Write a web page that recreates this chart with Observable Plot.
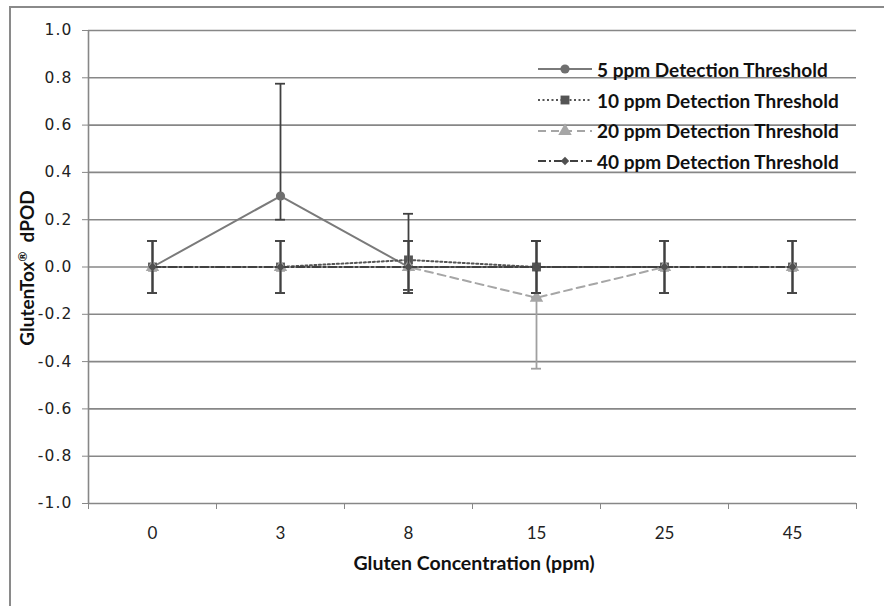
<!DOCTYPE html>
<html>
<head>
<meta charset="utf-8">
<script src="https://cdn.jsdelivr.net/npm/d3@7"></script>
<script src="https://cdn.jsdelivr.net/npm/@observablehq/plot@0.6"></script>
<style>
  html, body { margin: 0; padding: 0; background: #fff; }
  #wrap { position: relative; width: 884px; height: 606px; overflow: hidden; }
  #frame { position: absolute; left: 9px; top: 6px; width: 900px; height: 700px;
           border-top: 2px solid #8a8a8a; border-left: 2px solid #8a8a8a; pointer-events: none; }
  #legend { position: absolute; left: 537px; top: 54px; font-family: Lato, "Open Sans", sans-serif;
            font-weight: bold; font-size: 19px; color: #111; white-space: nowrap; }
  .row { height: 30.7px; display: flex; align-items: center; }
  .row svg { margin-right: 4px; flex: none; }
</style>
</head>
<body>
<div id="wrap">
  <div id="frame"></div>
  <div id="chart"></div>
  <div id="legend"></div>
</div>
<script>
// ---- data ----
const categories = ["0", "3", "8", "15", "25", "45"];
const yTicks = [-1, -0.8, -0.6, -0.4, -0.2, 0, 0.2, 0.4, 0.6, 0.8, 1];
const seriesNames = ["5 ppm Detection Threshold", "10 ppm Detection Threshold",
                     "20 ppm Detection Threshold", "40 ppm Detection Threshold"];
const v5  = [0, 0.30, 0, 0, 0, 0];
const lo5 = [-0.11, 0.20, -0.11, -0.11, -0.11, -0.11];
const hi5 = [0.11, 0.775, 0.11, 0.11, 0.11, 0.11];
const v10  = [0, 0, 0.03, 0, 0, 0];
const lo10 = [-0.11, -0.11, -0.097, -0.11, -0.11, -0.11];
const hi10 = [0.11, 0.11, 0.225, 0.11, 0.11, 0.11];
const v20  = [0, 0, 0, -0.13, 0, 0];
const lo20 = [-0.11, -0.11, -0.11, -0.43, -0.11, -0.11];
const hi20 = [0.11, 0.11, 0.11, -0.13, 0.11, 0.11];
const v40  = [0, 0, 0, 0, 0, 0];
const lo40 = [-0.11, -0.11, -0.11, -0.11, -0.11, -0.11];
const hi40 = [0.11, 0.11, 0.11, 0.11, 0.11, 0.11];

// ---- styles ----
const styles = [
  {stroke: "#7a7a7a", dash: null,      symbol: "circle",   r: 4.6, fill: "#6f6f6f", err: "#404040"},
  {stroke: "#555555", dash: "2,2.5",   symbol: "square",   r: 5.0, fill: "#555555", err: "#404040"},
  {stroke: "#a6a6a6", dash: "8,5",     symbol: "triangle", r: 5.0, fill: "#a6a6a6", err: "#a0a0a0"},
  {stroke: "#404040", dash: "8,3,2,3", symbol: "diamond2", r: 3.8, fill: "#505050", err: "#404040"}
];
const d3Symbols = {circle: d3.symbolCircle, square: d3.symbolSquare,
                   triangle: d3.symbolTriangle, diamond2: d3.symbolDiamond2};

const vals = [v5, v10, v20, v40], los = [lo5, lo10, lo20, lo40], his = [hi5, hi10, hi20, hi40];
const seriesRows = vals.map((v, s) => v.map((y, i) => ({s, i, y, lo: los[s][i], hi: his[s][i]})));

const boundaries = d3.range(-0.5, 6, 1);

const marks = [
  Plot.ruleY(yTicks, {stroke: "#878787", strokeWidth: 1.6}),
  Plot.ruleX([-0.5], {y1: -1, y2: 1, stroke: "#878787", strokeWidth: 1.6}),
  Plot.axisY(yTicks, {tickSize: 6, tickPadding: 10, stroke: "#878787", fill: "#222",
    tickFormat: d => d.toFixed(1), fontSize: 15.5, fontFamily: "DejaVu Sans, Verdana, sans-serif",
    label: null}),
  Plot.axisX(boundaries, {tickSize: 6, stroke: "#878787", tickFormat: () => "", label: null}),
  Plot.axisX(d3.range(0, 6), {tickSize: 0, tickPadding: 23, fill: "#222",
    tickFormat: i => categories[i], fontSize: 17,
    fontFamily: "Lato, sans-serif", label: null})
];

seriesRows.forEach((rows, s) => {
  const st = styles[s];
  marks.push(Plot.line(rows, {x: "i", y: "y", stroke: st.stroke, strokeWidth: 2,
    strokeDasharray: st.dash, curve: "linear"}));
  marks.push(Plot.ruleX(rows, {x: "i", y1: "lo", y2: "hi", stroke: st.err, strokeWidth: 1.8}));
  marks.push(Plot.ruleY(rows, {y: "lo", x1: "i", x2: "i", insetLeft: -5, insetRight: -5, stroke: st.err, strokeWidth: 1.8}));
  marks.push(Plot.ruleY(rows, {y: "hi", x1: "i", x2: "i", insetLeft: -5, insetRight: -5, stroke: st.err, strokeWidth: 1.8}));
  marks.push(Plot.dot(rows, {x: "i", y: "y", symbol: () => st.symbol, r: st.r, fill: st.fill, stroke: "none"}));
});

const chart = Plot.plot({
  width: 884, height: 606,
  marginLeft: 88, marginRight: 28, marginTop: 30, marginBottom: 103,
  x: {type: "linear", domain: [-0.5, 5.5]},
  y: {domain: [-1, 1]},
  symbol: {type: "identity"},
  style: {background: "transparent", color: "#222"},
  marks
});
document.getElementById("chart").appendChild(chart);

const svg = d3.select(chart);
// widen y tick labels slightly (letter spacing)
svg.selectAll("g[aria-label='y-axis tick label'] text")
  .attr("letter-spacing", "1.1px");

// axis titles
svg.append("text")
  .attr("transform", "translate(474,570)")
  .attr("text-anchor", "middle")
  .attr("font-family", "Lato, 'Open Sans', sans-serif")
  .attr("font-weight", "bold").attr("font-size", 19.5).attr("fill", "#111")
  .text("Gluten Concentration (ppm)");
const yt = svg.append("text")
  .attr("transform", "translate(34,268) rotate(-90)")
  .attr("text-anchor", "middle")
  .attr("font-family", "Lato, 'Open Sans', sans-serif")
  .attr("font-weight", "bold").attr("font-size", 19).attr("fill", "#111");
yt.append("tspan").text("GlutenTox");
yt.append("tspan").attr("dy", -7).attr("font-size", 12).text("®");
yt.append("tspan").attr("dy", 7).text("\u00a0\u00a0dPOD");

// legend
const legend = d3.select("#legend");
seriesNames.forEach((name, s) => {
  const st = styles[s];
  const row = legend.append("div").attr("class", "row");
  const ls = row.append("svg").attr("width", 56).attr("height", 20);
  ls.append("line").attr("x1", 1).attr("x2", 55).attr("y1", 10).attr("y2", 10)
    .attr("stroke", st.stroke).attr("stroke-width", 2)
    .attr("stroke-dasharray", st.dash);
  ls.append("path").attr("transform", "translate(28,10)")
    .attr("d", d3.symbol(d3Symbols[st.symbol], Math.PI * st.r * st.r)())
    .attr("fill", st.fill);
  row.append("span").text(name);
});
</script>
</body>
</html>
